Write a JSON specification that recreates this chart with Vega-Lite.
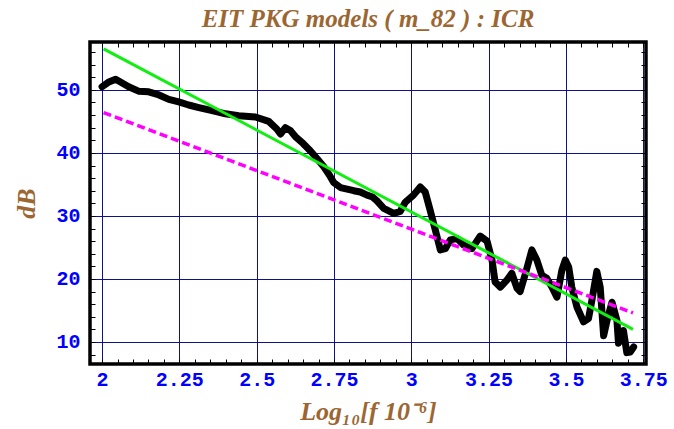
{
  "$schema": "https://vega.github.io/schema/vega-lite/v6.json",
  "autosize": "none",
  "width": 556,
  "height": 322,
  "padding": {"left": 90, "top": 42, "right": 28, "bottom": 65},
  "background": "white",
  "view": {"stroke": "black", "strokeWidth": 3.5},
  "title": {
    "text": "EIT PKG models ( m_82 ) : ICR",
    "font": "Liberation Serif",
    "fontSize": 25,
    "fontStyle": "italic",
    "fontWeight": "bold",
    "color": "#9C6632",
    "anchor": "middle",
    "frame": "group",
    "baseline": "alphabetic",
    "offset": -10
  },
  "config": {
    "view": {"stroke": "black", "strokeWidth": 3.5},
    "axis": {
      "domain": false,
      "tickColor": "black",
      "tickWidth": 1,
      "tickSize": -5,
      "gridColor": "#10108A",
      "gridWidth": 1,
      "labelFont": "Liberation Mono",
      "labelFontWeight": "bold",
      "labelFontSize": 20,
      "labelColor": "#0000FF",
      "titleFont": "Liberation Serif",
      "titleFontStyle": "italic",
      "titleFontWeight": "bold",
      "titleFontSize": 26,
      "titleColor": "#9C6632"
    }
  },
  "datasets": {
    "icr": [
      {"series": "measured", "logf": 2.0, "dB": 50.5},
      {"series": "measured", "logf": 2.02, "dB": 51.2},
      {"series": "measured", "logf": 2.044, "dB": 51.7},
      {"series": "measured", "logf": 2.065, "dB": 51.1},
      {"series": "measured", "logf": 2.086, "dB": 50.5},
      {"series": "measured", "logf": 2.118, "dB": 49.8},
      {"series": "measured", "logf": 2.151, "dB": 49.7},
      {"series": "measured", "logf": 2.184, "dB": 49.2},
      {"series": "measured", "logf": 2.216, "dB": 48.5},
      {"series": "measured", "logf": 2.248, "dB": 48.1},
      {"series": "measured", "logf": 2.28, "dB": 47.6},
      {"series": "measured", "logf": 2.313, "dB": 47.2},
      {"series": "measured", "logf": 2.356, "dB": 46.7},
      {"series": "measured", "logf": 2.399, "dB": 46.2},
      {"series": "measured", "logf": 2.442, "dB": 45.9},
      {"series": "measured", "logf": 2.496, "dB": 45.7},
      {"series": "measured", "logf": 2.539, "dB": 45.0},
      {"series": "measured", "logf": 2.565, "dB": 43.8},
      {"series": "measured", "logf": 2.577, "dB": 43.0},
      {"series": "measured", "logf": 2.593, "dB": 44.0},
      {"series": "measured", "logf": 2.61, "dB": 43.5},
      {"series": "measured", "logf": 2.625, "dB": 42.6},
      {"series": "measured", "logf": 2.65, "dB": 41.5},
      {"series": "measured", "logf": 2.674, "dB": 40.3},
      {"series": "measured", "logf": 2.697, "dB": 39.0},
      {"series": "measured", "logf": 2.717, "dB": 37.8},
      {"series": "measured", "logf": 2.735, "dB": 36.5},
      {"series": "measured", "logf": 2.749, "dB": 35.3},
      {"series": "measured", "logf": 2.771, "dB": 34.5},
      {"series": "measured", "logf": 2.814, "dB": 34.0},
      {"series": "measured", "logf": 2.835, "dB": 33.8},
      {"series": "measured", "logf": 2.857, "dB": 33.3},
      {"series": "measured", "logf": 2.875, "dB": 33.0},
      {"series": "measured", "logf": 2.889, "dB": 32.4},
      {"series": "measured", "logf": 2.911, "dB": 31.2},
      {"series": "measured", "logf": 2.943, "dB": 30.4},
      {"series": "measured", "logf": 2.964, "dB": 30.7},
      {"series": "measured", "logf": 2.981, "dB": 32.2},
      {"series": "measured", "logf": 3.007, "dB": 33.3},
      {"series": "measured", "logf": 3.029, "dB": 34.6},
      {"series": "measured", "logf": 3.045, "dB": 33.8},
      {"series": "measured", "logf": 3.061, "dB": 30.9},
      {"series": "measured", "logf": 3.078, "dB": 27.7},
      {"series": "measured", "logf": 3.094, "dB": 24.6},
      {"series": "measured", "logf": 3.11, "dB": 24.8},
      {"series": "measured", "logf": 3.126, "dB": 26.2},
      {"series": "measured", "logf": 3.148, "dB": 26.4},
      {"series": "measured", "logf": 3.169, "dB": 25.4},
      {"series": "measured", "logf": 3.196, "dB": 24.8},
      {"series": "measured", "logf": 3.212, "dB": 26.0},
      {"series": "measured", "logf": 3.223, "dB": 26.8},
      {"series": "measured", "logf": 3.245, "dB": 26.0},
      {"series": "measured", "logf": 3.261, "dB": 23.0},
      {"series": "measured", "logf": 3.271, "dB": 19.5},
      {"series": "measured", "logf": 3.288, "dB": 18.7},
      {"series": "measured", "logf": 3.309, "dB": 19.8},
      {"series": "measured", "logf": 3.325, "dB": 20.9},
      {"series": "measured", "logf": 3.342, "dB": 18.5},
      {"series": "measured", "logf": 3.352, "dB": 18.0},
      {"series": "measured", "logf": 3.37, "dB": 21.0},
      {"series": "measured", "logf": 3.39, "dB": 24.6},
      {"series": "measured", "logf": 3.406, "dB": 23.0},
      {"series": "measured", "logf": 3.422, "dB": 20.6},
      {"series": "measured", "logf": 3.438, "dB": 20.1},
      {"series": "measured", "logf": 3.455, "dB": 18.7},
      {"series": "measured", "logf": 3.471, "dB": 17.1},
      {"series": "measured", "logf": 3.487, "dB": 21.4},
      {"series": "measured", "logf": 3.498, "dB": 23.0},
      {"series": "measured", "logf": 3.509, "dB": 21.9},
      {"series": "measured", "logf": 3.519, "dB": 18.7},
      {"series": "measured", "logf": 3.536, "dB": 15.5},
      {"series": "measured", "logf": 3.557, "dB": 13.2},
      {"series": "measured", "logf": 3.573, "dB": 13.7},
      {"series": "measured", "logf": 3.584, "dB": 16.6},
      {"series": "measured", "logf": 3.6, "dB": 21.2},
      {"series": "measured", "logf": 3.611, "dB": 18.7},
      {"series": "measured", "logf": 3.622, "dB": 11.0},
      {"series": "measured", "logf": 3.633, "dB": 13.4},
      {"series": "measured", "logf": 3.649, "dB": 16.3},
      {"series": "measured", "logf": 3.665, "dB": 13.4},
      {"series": "measured", "logf": 3.67, "dB": 9.8},
      {"series": "measured", "logf": 3.686, "dB": 11.8},
      {"series": "measured", "logf": 3.697, "dB": 8.3},
      {"series": "measured", "logf": 3.708, "dB": 8.4},
      {"series": "measured", "logf": 3.719, "dB": 9.2},
      {"series": "fit", "logf": 2.005, "dB": 56.5},
      {"series": "fit", "logf": 3.717, "dB": 12.0},
      {"series": "model", "logf": 2.005, "dB": 46.4},
      {"series": "model", "logf": 3.717, "dB": 14.6}
    ]
  },
  "data": {"name": "icr"},
  "resolve": {
    "scale": {"x": "independent", "y": "independent"},
    "axis": {"x": "independent", "y": "independent"}
  },
  "layer": [
    {
      "transform": [{"filter": "datum.series === 'measured'"}],
      "mark": {"type": "line", "color": "black", "strokeWidth": 7, "strokeCap": "round", "strokeJoin": "round"},
      "encoding": {
        "x": {
          "field": "logf", "type": "quantitative",
          "scale": {"domain": [1.961, 3.759], "nice": false, "zero": false},
          "axis": {
            "orient": "bottom",
            "title": "Log₁₀[f 10⁻⁶]",
            "titlePadding": 9,
            "labelPadding": 10,
            "values": [2, 2.05, 2.1, 2.15, 2.2, 2.25, 2.3, 2.35, 2.4, 2.45, 2.5, 2.55, 2.6, 2.65, 2.7, 2.75, 2.8, 2.85, 2.9, 2.95, 3, 3.05, 3.1, 3.15, 3.2, 3.25, 3.3, 3.35, 3.4, 3.45, 3.5, 3.55, 3.6, 3.65, 3.7, 3.75],
            "labelExpr": "abs(datum.value * 4 - round(datum.value * 4)) < 0.01 ? format(datum.value, '.3~f') : ''",
            "labelOverlap": false,
            "labelFlush": false,
            "grid": true,
            "gridOpacity": {"condition": {"test": "abs(datum.value * 4 - round(datum.value * 4)) < 0.01", "value": 1}, "value": 0}
          }
        },
        "y": {
          "field": "dB", "type": "quantitative",
          "scale": {"domain": [6.5, 57.6], "nice": false, "zero": false},
          "axis": {
            "orient": "left",
            "title": "dB",
            "titlePadding": 16,
            "labelPadding": 15,
            "values": [8, 10, 12, 14, 16, 18, 20, 22, 24, 26, 28, 30, 32, 34, 36, 38, 40, 42, 44, 46, 48, 50, 52, 54, 56],
            "labelExpr": "datum.value % 10 === 0 ? format(datum.value, 'd') : ''",
            "labelOverlap": false,
            "labelFlush": false,
            "grid": true,
            "gridOpacity": {"condition": {"test": "datum.value % 10 === 0", "value": 1}, "value": 0}
          }
        }
      }
    },
    {
      "transform": [{"filter": "datum.series === 'fit'"}],
      "mark": {"type": "line", "color": "#11EE11", "strokeWidth": 3},
      "encoding": {
        "x": {"field": "logf", "type": "quantitative", "scale": {"domain": [1.961, 3.759], "nice": false, "zero": false}, "axis": null},
        "y": {"field": "dB", "type": "quantitative", "scale": {"domain": [6.5, 57.6], "nice": false, "zero": false}, "axis": null}
      }
    },
    {
      "transform": [{"filter": "datum.series === 'model'"}],
      "mark": {"type": "line", "color": "#FF00FF", "strokeWidth": 3.5, "strokeDash": [8, 4]},
      "encoding": {
        "x": {
          "field": "logf", "type": "quantitative",
          "scale": {"domain": [1.961, 3.759], "nice": false, "zero": false},
          "axis": {
            "orient": "top",
            "title": null,
            "labels": false,
            "grid": false,
            "values": [2, 2.05, 2.1, 2.15, 2.2, 2.25, 2.3, 2.35, 2.4, 2.45, 2.5, 2.55, 2.6, 2.65, 2.7, 2.75, 2.8, 2.85, 2.9, 2.95, 3, 3.05, 3.1, 3.15, 3.2, 3.25, 3.3, 3.35, 3.4, 3.45, 3.5, 3.55, 3.6, 3.65, 3.7, 3.75]
          }
        },
        "y": {
          "field": "dB", "type": "quantitative",
          "scale": {"domain": [6.5, 57.6], "nice": false, "zero": false},
          "axis": {
            "orient": "right",
            "title": null,
            "labels": false,
            "grid": false,
            "values": [8, 10, 12, 14, 16, 18, 20, 22, 24, 26, 28, 30, 32, 34, 36, 38, 40, 42, 44, 46, 48, 50, 52, 54, 56]
          }
        }
      }
    }
  ]
}
